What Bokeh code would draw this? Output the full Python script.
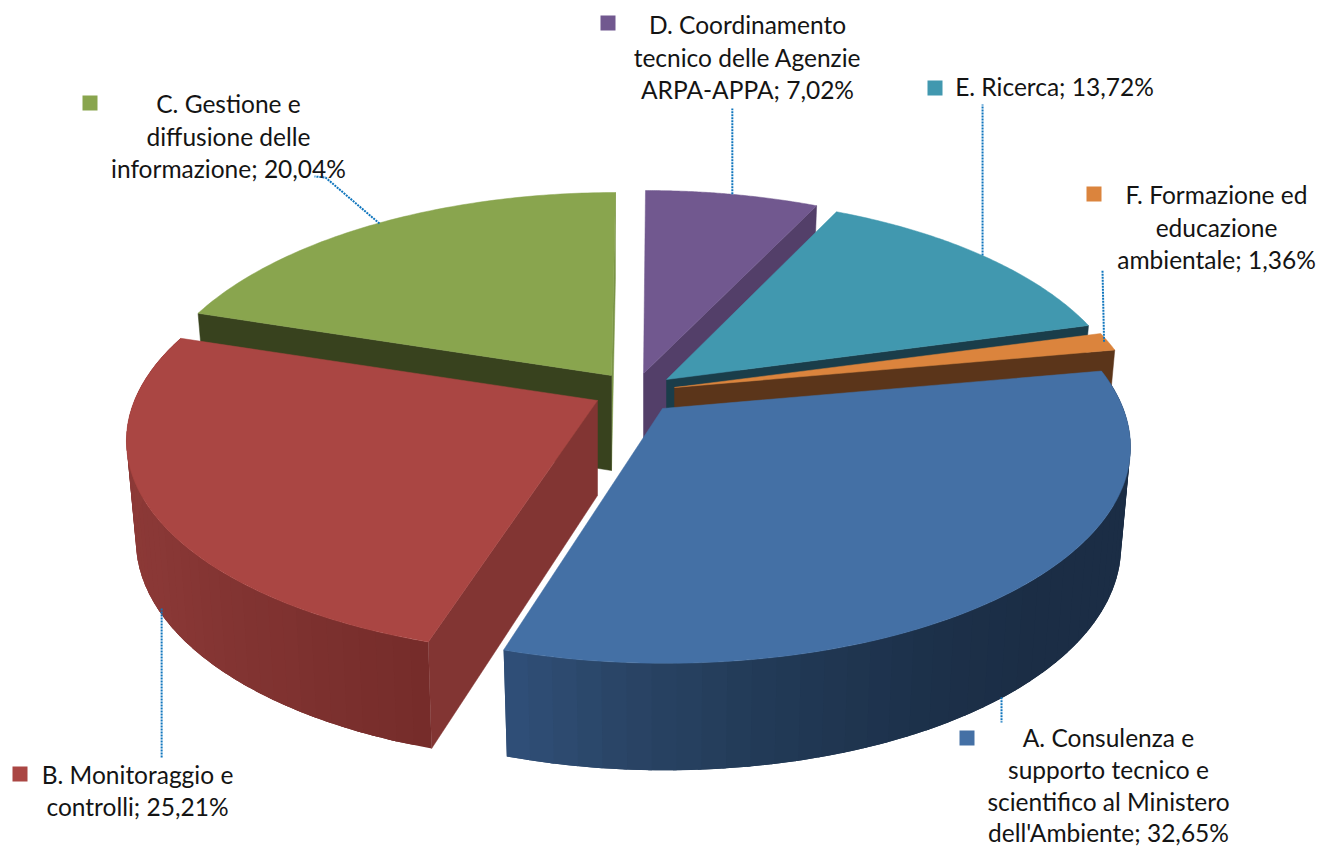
import numpy as np
from bokeh.plotting import figure
from bokeh.models import Range1d, ColumnDataSource
from bokeh.core.properties import value
from bokeh.embed import file_html
from bokeh.resources import INLINE

# ---- data ----
categories = ["A", "B", "C", "D", "E", "F"]
shares = [32.65, 25.21, 20.04, 7.02, 13.72, 1.36]
top_colors = ["#4470a5", "#aa4643", "#89a54e", "#71588f", "#4198af", "#db843d"]
cut_colors = ["#1b2e46", "#823533", "#38421e", "#533f69", "#1a3d4a", "#5b351a"]
label_lines = [
    ["A. Consulenza e", "supporto tecnico e", "scientifico al Ministero", "dell'Ambiente; 32,65%"],
    ["B. Monitoraggio e", "controlli; 25,21%"],
    ["C. Gestione e", "diffusione delle", "informazione; 20,04%"],
    ["D. Coordinamento", "tecnico delle Agenzie", "ARPA-APPA; 7,02%"],
    ["E. Ricerca; 13,72%"],
    ["F. Formazione ed", "educazione", "ambientale; 1,36%"],
]

# ---- layout ----
apex = {"A": (662, 408), "B": (597, 400), "C": (611, 375), "D": (643, 373), "E": (666, 379), "F": (674, 387)}
label_center = {"A": 1108, "B": 137, "C": 228, "D": 747, "E": 1054, "F": 1216}
TEXT_SHIFT = -9
label_base = {"A": 746, "B": 783, "C": 112, "D": 33, "E": 95, "F": 203}
label_step = {"A": 31.8, "B": 31.5, "C": 32.5, "D": 32.5, "E": 32.5, "F": 32.5}
key_center = {"A": (966.5, 737.5), "B": (19.5, 773.5), "C": (89.5, 102.5),
              "D": (607.5, 22.5), "E": (934.5, 87.5), "F": (1093.5, 193.5)}
leader_end = {"A": [(0, 722)], "B": [(0, 757)], "C": [(325, 177), (314, 176)],
              "D": [(0, 108)], "E": [(0, 104)], "F": [(1102, 270)]}
leader_shift = {"A": (-7, 3), "B": (4, 0), "C": (2, 0), "D": (0, 0), "E": (0, 0), "F": (-4, 0)}
leader_depth = {"A": True, "B": True}

RX, B, AX, AY = 463.0, 213.0, 0.17, 0.164
SKEW = {"A": -3.0, "B": 7.0, "C": 4.0, "D": 2.0, "E": 1.0, "F": 4.0}
RX_SCALE = {"A": 0.995, "B": 1.0, "C": 0.99, "D": 1.0, "E": 0.987, "F": 0.995}
DEPTH0, DEPTH1, SHRINK = 97.0, 10.0, 0.98

side_stops = {
    "A": ([79, 135, 150, 170, 185, 198], ["#1b2d45", "#1b2d45", "#1c3049", "#223a57", "#2a4566", "#30507a"]),
    "B": ([197, 215, 240, 288], ["#752c2a", "#7f3230", "#8a3836", "#8f3b38"]),
}


def rim(t, k):
    a = apex[k]
    r = np.radians(t)
    s, c = np.sin(r), np.cos(r)
    return a[0] + RX * RX_SCALE[k] * s / (1 + AX * c) + SKEW[k] * c, a[1] - B * c / (1 + AY * c)


def low(t, k):
    a = apex[k]
    x, y = rim(t, k)
    c = np.cos(np.radians(t))
    return a[0] + (x - a[0]) * SHRINK, y + DEPTH0 - DEPTH1 * c


def low_apex(a):
    return a[0], a[1] + 95


def hex_rgb(h):
    return np.array([int(h[i:i + 2], 16) for i in (1, 3, 5)], float)


def stop_color(t, ts, cols):
    arr = np.array([hex_rgb(k) for k in cols])
    v = [np.interp(t, ts, arr[:, i]) for i in range(3)]
    return "#%02x%02x%02x" % tuple(int(round(q)) for q in v)


total = sum(shares)
span = {k: v / total * 360 for k, v in zip(categories, shares)}
C_end = 360.0
C_start = C_end - span["C"]
D_end = span["D"]
E_end = D_end + span["E"]
F_end = E_end + span["F"]
A_end = F_end + span["A"]
B_end = A_end + span["B"]
angles = {"D": (0.0, D_end), "E": (D_end, E_end), "F": (E_end, F_end),
          "A": (F_end, A_end), "B": (A_end, B_end), "C": (C_start, C_end)}
top = dict(zip(categories, top_colors))
cut = dict(zip(categories, cut_colors))
visible_edges = {"C": [C_end, C_start], "D": [D_end], "E": [E_end], "F": [F_end], "B": [angles["B"][0]], "A": []}

p = figure(width=1319, height=848, output_backend="svg", toolbar_location=None,
           x_range=Range1d(0, 1319), y_range=Range1d(848, 0), min_border=0)
p.axis.visible = False
p.grid.visible = False
p.outline_line_color = None
p.background_fill_color = "#ffffff"

LEADER = "#0f75bd"


def edge_face(t, k, color):
    a = apex[k]
    x0, y0 = rim(t, k)
    x1, y1 = low(t, k)
    xa, ya = low_apex(a)
    p.patch([a[0], x0, x1, xa], [a[1], y0, y1, ya], fill_color=color, line_color=color, line_width=0.5)


for k in ["C", "D", "E", "F", "B", "A"]:
    a = apex[k]
    t0, t1 = angles[k]
    for e in visible_edges[k]:
        col = "#7a9447" if (k == "C" and e == C_end) else cut[k]
        edge_face(e, k, col)
    if k in side_stops:
        ts, cols = side_stops[k]
        steps = np.linspace(t0, t1, 46)
        # later bands overlap the earlier ones so no seam shows between them
        for u, v in zip(steps[:-1], steps[1:]):
            w = min(v + 3.0, t1)
            sub = np.linspace(u, w, 6)
            xu, yu = rim(sub, k)
            xl, yl = low(sub, k)
            col = stop_color((u + v) / 2, ts, cols)
            p.patch(list(xu) + list(xl[::-1]), list(yu) + list(yl[::-1]), fill_color=col, line_color=None)
    tt = np.linspace(t0, t1, 90)
    xs, ys = rim(tt, k)
    p.patch([a[0]] + list(xs), [a[1]] + list(ys), fill_color=top[k], line_color=top[k], line_width=0.5)

# leaders
for k in categories:
    t0, t1 = angles[k]
    mid = (t0 + t1) / 2
    x, y = low(mid, k) if k in leader_depth else rim(mid, k)
    dx, dy = leader_shift[k]
    x, y = x + dx, y + dy
    ex, ey = [x], [y]
    for q in leader_end[k]:
        ex.append(q[0] if q[0] else x)
        ey.append(q[1])
    p.line(ex, ey, line_color=LEADER, line_width=2, line_dash="2 1")

# keys
kx = [key_center[k][0] for k in categories]
ky = [key_center[k][1] for k in categories]
p.rect(kx, ky, width=15, height=15, fill_color=top_colors, line_color=None)

# labels
tx, ty, tt_ = [], [], []
for k, lines in zip(categories, label_lines):
    for i, line in enumerate(lines):
        tx.append(label_center[k])
        ty.append(label_base[k] + TEXT_SHIFT + i * label_step[k])
        tt_.append(line)
p.text(x="x", y="y", text="t", source=ColumnDataSource(dict(x=tx, y=ty, t=tt_)),
       text_font=value("Lato"), text_font_size="24.5px", text_color="#141414",
       text_align="center", text_baseline="alphabetic")

open("out.html", "w").write(file_html(p, INLINE))
